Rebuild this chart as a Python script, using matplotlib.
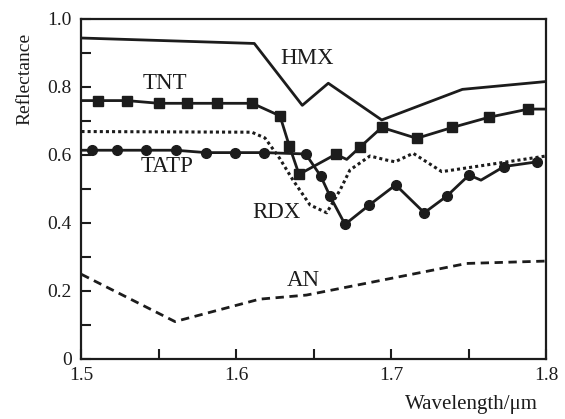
import matplotlib
matplotlib.use("Agg")
import matplotlib.pyplot as plt
from matplotlib.ticker import MultipleLocator, FixedLocator

plt.rcParams['font.family'] = ['Liberation Serif', 'DejaVu Serif']

ink = '#1c1c1c'

# HMX (solid, no markers)
hmx_x = [1.5, 1.6116, 1.6426, 1.6594, 1.6939, 1.746, 1.8]
hmx_y = [0.944, 0.928, 0.746, 0.811, 0.703, 0.793, 0.816]

# TNT (squares); first point at the axis has no marker, notch at 1.6713 neither
tnt_x = [1.5, 1.5105, 1.5292, 1.55, 1.568, 1.5873, 1.6103, 1.6282, 1.6342, 1.6405,
         1.6642, 1.6713, 1.6801, 1.6939, 1.7165, 1.7395, 1.7632, 1.7886, 1.8]
tnt_y = [0.760, 0.760, 0.760, 0.752, 0.752, 0.752, 0.752, 0.715, 0.627, 0.543,
         0.602, 0.587, 0.624, 0.681, 0.649, 0.681, 0.711, 0.735, 0.735]
tnt_marks = [1, 2, 3, 4, 5, 6, 7, 8, 9, 10, 12, 13, 14, 15, 16, 17]

# TATP (circles)
tatp_x = [1.5, 1.5066, 1.5227, 1.5417, 1.5608, 1.5804, 1.5991, 1.6179, 1.6448,
          1.6545, 1.6605, 1.6702, 1.6859, 1.7029, 1.7214, 1.7359, 1.7503, 1.758,
          1.7729, 1.7944]
tatp_y = [0.614, 0.614, 0.614, 0.614, 0.614, 0.607, 0.607, 0.607, 0.603,
          0.538, 0.479, 0.396, 0.453, 0.512, 0.430, 0.479, 0.541, 0.526,
          0.566, 0.580]
tatp_marks = [1, 2, 3, 4, 5, 6, 7, 8, 9, 10, 11, 12, 13, 14, 15, 16, 18, 19]

# RDX (dotted)
rdx_x = [1.5, 1.61, 1.6185, 1.6280, 1.6366, 1.6476, 1.6584, 1.667, 1.6734,
         1.6863, 1.6971, 1.7025, 1.7142, 1.7327, 1.8]
rdx_y = [0.669, 0.667, 0.650, 0.590, 0.526, 0.453, 0.430, 0.497, 0.556,
         0.597, 0.585, 0.580, 0.605, 0.551, 0.597]

# AN (dashed)
an_x = [1.5, 1.5604, 1.615, 1.6453, 1.7488, 1.8]
an_y = [0.249, 0.110, 0.176, 0.188, 0.281, 0.288]

labels = ['HMX', 'TNT', 'TATP', 'RDX', 'AN']
label_x = [1.6457, 1.554, 1.5553, 1.626, 1.643]
label_y = [0.885, 0.81, 0.565, 0.431, 0.232]

fig = plt.figure(figsize=(5.65, 4.19), dpi=100)
ax = fig.add_axes([0.1442, 0.1432, 0.8222, 0.8115])

ax.plot(hmx_x, hmx_y, color=ink, lw=2.0)
ax.plot(tnt_x, tnt_y, color=ink, lw=2.0, marker='s', ms=7, markevery=tnt_marks)
ax.plot(tatp_x, tatp_y, color=ink, lw=2.0, marker='o', ms=7, markevery=tatp_marks)
ax.plot(rdx_x, rdx_y, color=ink, lw=2.2, ls=(0, (1, 1)))
ax.plot(an_x, an_y, color=ink, lw=2.0, ls=(0, (3, 2)))

for t, x, y in zip(labels, label_x, label_y):
    ax.text(x, y, t, fontsize=16.5, ha='center', va='center', color=ink)

ax.set_xlim(1.5, 1.8)
ax.set_ylim(0, 1.0)
ax.xaxis.set_major_locator(FixedLocator([1.5, 1.6, 1.7, 1.8]))
ax.xaxis.set_minor_locator(MultipleLocator(0.05))
ax.yaxis.set_major_locator(FixedLocator([0, 0.2, 0.4, 0.6, 0.8, 1.0]))
ax.yaxis.set_minor_locator(MultipleLocator(0.1))
ax.set_xticklabels(['1.5', '1.6', '1.7', '1.8'])
ax.set_yticklabels(['0', '0.2', '0.4', '0.6', '0.8', '1.0'])
ax.tick_params(which='both', direction='in', length=7, width=1.5, colors=ink,
               labelsize=14, top=False, right=False)
ax.tick_params(axis='x', pad=6)
ax.tick_params(axis='y', pad=7)
for s in ax.spines.values():
    s.set_linewidth(1.6)
    s.set_color(ink)

ax.set_xlabel('Wavelength/μm', fontsize=15, color=ink)
ax.xaxis.set_label_coords(0.983, -0.105)
ax.xaxis.label.set_ha('right')
ax.set_ylabel('Reflectance', fontsize=14, color=ink)
ax.yaxis.set_label_coords(-0.104, 0.825)

fig.savefig('out.png', dpi=100)
